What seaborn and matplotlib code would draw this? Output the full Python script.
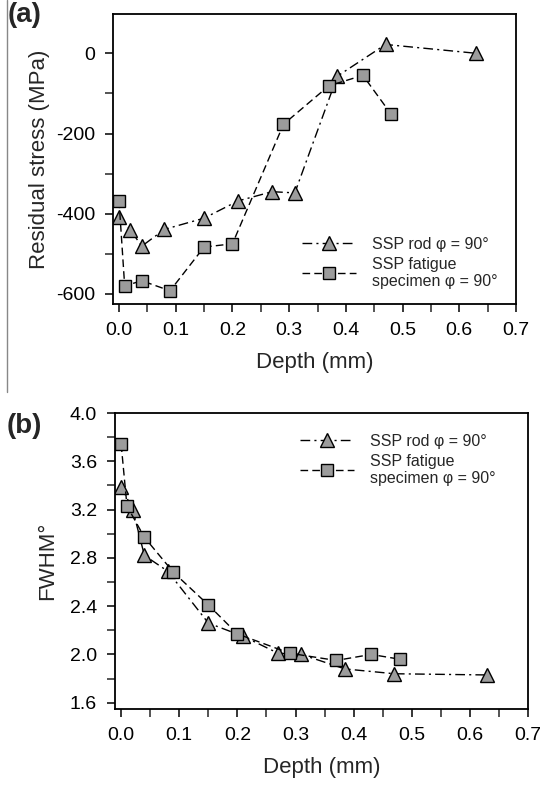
import numpy as np
import pandas as pd
import matplotlib
matplotlib.use("Agg")
import matplotlib.pyplot as plt
from matplotlib.lines import Line2D
from matplotlib.ticker import MultipleLocator
import seaborn as sns

# ---- data (a) residual stress ----
rod_depth_a = [0.0, 0.02, 0.04, 0.08, 0.15, 0.21, 0.27, 0.31, 0.385, 0.47, 0.63]
rod_stress = [-407, -440, -481, -439, -411, -368, -345, -348, -57, 22, 0]
fat_depth_a = [0.0, 0.01, 0.04, 0.09, 0.15, 0.20, 0.29, 0.37, 0.43, 0.48]
fat_stress = [-367, -580, -567, -592, -483, -475, -177, -81, -55, -152]

# ---- data (b) FWHM ----
rod_depth_b = [0.0, 0.02, 0.04, 0.08, 0.15, 0.21, 0.27, 0.31, 0.385, 0.47, 0.63]
rod_fwhm = [3.39, 3.20, 2.82, 2.69, 2.26, 2.15, 2.01, 2.00, 1.88, 1.84, 1.83]
fat_depth_b = [0.0, 0.01, 0.04, 0.09, 0.15, 0.20, 0.29, 0.37, 0.43, 0.48]
fat_fwhm = [3.74, 3.23, 2.97, 2.68, 2.41, 2.17, 2.01, 1.95, 2.00, 1.96]

x_ticks = [0.0, 0.1, 0.2, 0.3, 0.4, 0.5, 0.6, 0.7]
x_ticklabels = ["0.0", "0.1", "0.2", "0.3", "0.4", "0.5", "0.6", "0.7"]
ya_ticks = [0, -200, -400, -600]
yb_ticks = [1.6, 2.0, 2.4, 2.8, 3.2, 3.6, 4.0]

rod_label = "SSP rod \u03c6 = 90\u00b0"
fat_label = "SSP fatigue\nspecimen \u03c6 = 90\u00b0"

sns.set_style("ticks")
plt.rcParams["font.family"] = ["Liberation Sans", "DejaVu Sans"]

fig = plt.figure(figsize=(5.4, 7.85), dpi=100)
W, H = 540, 785

def add_ax(l, r, t, b):
    return fig.add_axes([l / W, 1 - b / H, (r - l) / W, (b - t) / H])

ax_a = add_ax(113, 516, 14, 304)
ax_b = add_ax(115, 528, 413, 709)

face = "#9c9c9c"
rod_kw = dict(color="black", linestyle=(0, (7, 3, 1.5, 3)), linewidth=1.0,
              marker="^", markersize=10, markerfacecolor=face,
              markeredgecolor="black", markeredgewidth=1.0)
fat_kw = dict(color="black", linestyle=(0, (5.5, 3)), linewidth=1.0,
              marker="s", markersize=8.5, markerfacecolor=face,
              markeredgecolor="black", markeredgewidth=1.0)

def draw(ax, xr, yr, xf, yf):
    d1 = pd.DataFrame({"x": xr, "y": yr})
    d2 = pd.DataFrame({"x": xf, "y": yf})
    sns.lineplot(data=d1, x="x", y="y", ax=ax, sort=False, label=rod_label, **rod_kw)
    sns.lineplot(data=d2, x="x", y="y", ax=ax, sort=False, label=fat_label, **fat_kw)

draw(ax_a, rod_depth_a, rod_stress, fat_depth_a, fat_stress)
draw(ax_b, rod_depth_b, rod_fwhm, fat_depth_b, fat_fwhm)

for ax in (ax_a, ax_b):
    ax.set_xlim(-0.0106, 0.7)
    ax.set_xticks(x_ticks)
    ax.set_xticklabels(x_ticklabels)
    ax.xaxis.set_minor_locator(MultipleLocator(0.05))
    ax.tick_params(axis="both", which="major", direction="out", length=6, width=1.1,
                   labelsize=14, pad=7, colors="black")
    ax.tick_params(axis="both", which="minor", direction="out", length=6, width=1.1)
    for s in ax.spines.values():
        s.set_linewidth(1.3)
        s.set_color("black")
    ax.set_xlabel("Depth (mm)", fontsize=16, labelpad=9)
    ax.grid(False)

ax_a.set_ylim(-625, 98)
ax_a.set_yticks(ya_ticks)
ax_a.set_yticklabels([str(v) for v in ya_ticks])
ax_a.yaxis.set_minor_locator(MultipleLocator(100))
ax_a.set_ylabel("Residual stress (MPa)", fontsize=16, labelpad=4)

ax_b.set_ylim(1.548, 4.0)
ax_b.set_yticks(yb_ticks)
ax_b.set_yticklabels([f"{v:.1f}" for v in yb_ticks])
ax_b.yaxis.set_minor_locator(MultipleLocator(0.2))
ax_b.set_ylabel("FWHM\u00b0", fontsize=16, labelpad=8)

def legend(ax, x0, y0):
    h, l = ax.get_legend_handles_labels()
    ax.legend(h, l, loc="upper left", bbox_to_anchor=(x0 / W, 1 - y0 / H),
              bbox_transform=fig.transFigure, frameon=False, fontsize=11.5,
              handlelength=3.4, handletextpad=1.0, labelspacing=0.3,
              borderpad=0, borderaxespad=0)

legend(ax_a, 302, 237)
legend(ax_b, 300, 434)

fig.text(8 / W, 1 - 15 / H, "(a)", fontsize=20, fontweight="bold", va="center", ha="left")
fig.text(7 / W, 1 - 426 / H, "(b)", fontsize=20, fontweight="bold", va="center", ha="left")
fig.add_artist(Line2D([7 / W, 7 / W], [1, 1 - 392 / H], color="#888888", lw=1.0))

fig.savefig("out.png", dpi=100)
